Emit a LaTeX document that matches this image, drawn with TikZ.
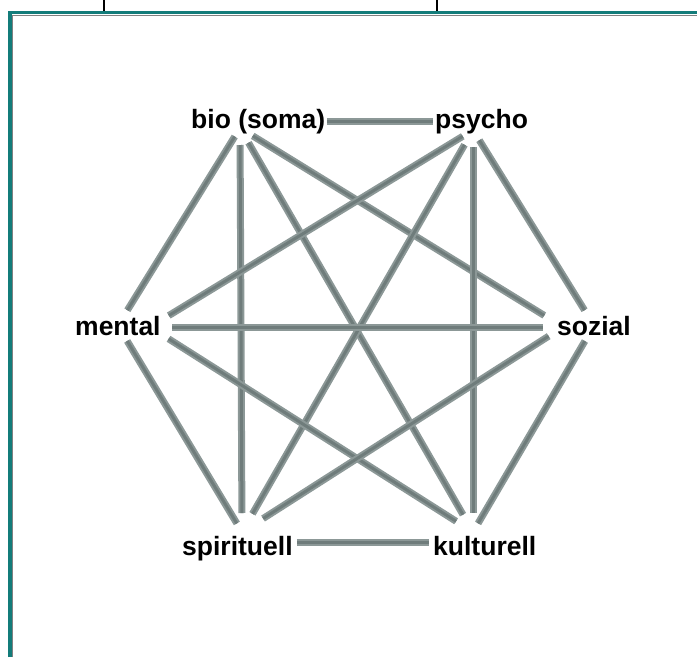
\documentclass[tikz,border=0pt]{standalone}
\usepackage{fontspec}
\setmainfont{Liberation Sans}
\usepackage{tikz}
\definecolor{framecol}{HTML}{137C7A}
\definecolor{linkdark}{HTML}{6F7C7B}
\definecolor{linklight}{HTML}{8C9897}

\begin{document}
\begin{tikzpicture}[x=1pt,y=-1pt,
  lbl/.style={inner sep=0pt,font=\fontsize{26.5}{29}\selectfont\bfseries},
  link/.style={draw=linklight,line width=2pt,double=linkdark,double distance=3pt}]
 \useasboundingbox (0,0) rectangle (697,657);
 % frame
 \draw[framecol,line width=3.2pt] (10,657) -- (10,12.5) -- (697,12.5);
 \draw[gray,line width=1pt] (12.5,657) -- (12.5,15) -- (697,15);
 \foreach \x in {104,437}
   \draw[black,line width=2.5pt] (\x,0) -- (\x,11);
 % labels
 \node[lbl,anchor=base west] (bio) at (191,128) {bio (soma)};
 \node[lbl,anchor=base west] (psy) at (435,128) {psycho};
 \node[lbl,anchor=base west] (men) at (75,335) {mental};
 \node[lbl,anchor=base west] (soz) at (557,335) {sozial};
 \node[lbl,anchor=base west] (spi) at (182,555) {spirituell};
 \node[lbl,anchor=base west] (kul) at (433,555) {kulturell};
 % hubs
 \coordinate (b) at (240,128);
 \coordinate (p) at (473,130);
 \coordinate (m) at (150,327);
 \coordinate (s) at (563,327);
 \coordinate (sp) at (242,532);
 \coordinate (k) at (473,532);
 % connections
 \draw[link,shorten <=2pt,shorten >=2pt] (bio.east) -- (bio.east -| psy.west);
 \draw[link,shorten <=4pt,shorten >=4pt] (spi.6) -- (spi.6 -| kul.west);
 \foreach \u/\v/\i/\o in {b/s/15/22, b/k/17/20, b/sp/17/19, p/m/12/22,
     p/sp/17/21, p/k/17/19, m/k/22/20, s/sp/17/25, m/s/22/20}
   \draw[link,shorten <=\i pt,shorten >=\o pt] (\u) -- (\v);
 \draw[link,shorten <=10pt,shorten >=18pt] (b) -- (men.center);
 \draw[link,shorten <=18pt,shorten >=10pt] (men.center) -- (sp);
 \draw[link,shorten <=12pt,shorten >=18pt] (p) -- (soz.center);
 \draw[link,shorten <=18pt,shorten >=10pt] (soz.center) -- (k);
\end{tikzpicture}
\end{document}
